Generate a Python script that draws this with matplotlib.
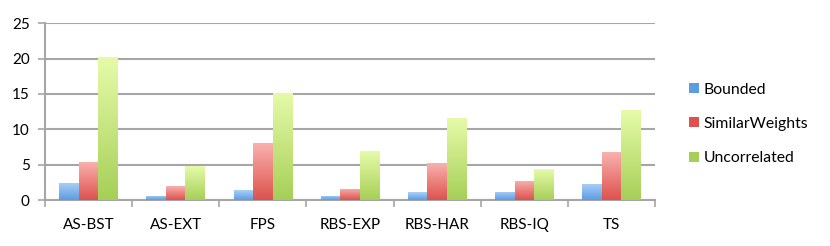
import matplotlib
matplotlib.use('Agg')
import matplotlib.pyplot as plt
import numpy as np
from matplotlib.colors import LinearSegmentedColormap
from matplotlib.patches import Patch

plt.rcParams['font.family'] = ['Lato', 'DejaVu Sans']

categories = ['AS-BST', 'AS-EXT', 'FPS', 'RBS-EXP', 'RBS-HAR', 'RBS-IQ', 'TS']
bounded = [2.45, 0.57, 1.37, 0.57, 1.08, 1.18, 2.31]
similar_weights = [5.33, 1.98, 8.06, 1.56, 5.19, 2.69, 6.79]
uncorrelated = [20.2, 4.8, 15.2, 6.93, 11.6, 4.38, 12.73]

series = [('Bounded', bounded, '#5b9de3', '#abd0f7'),
          ('SimilarWeights', similar_weights, '#dd524e', '#f9b1ae'),
          ('Uncorrelated', uncorrelated, '#a6cf57', '#e6fba9')]

fig = plt.figure(figsize=(8.3, 2.46), dpi=100)
ax = fig.add_axes([45/830, 1-200/246, 610/830, 176.7/246])

x = np.arange(len(categories))
w = 0.224
grad = np.linspace(0, 1, 100).reshape(-1, 1)

for k, (name, vals, c_bot, c_top) in enumerate(series):
    cmap = LinearSegmentedColormap.from_list(name, [c_bot, c_top])
    bars = ax.bar(x + (k - 1) * w, vals, w, color=c_bot, edgecolor='none', zorder=3)
    for b in bars:
        x0, y0 = b.get_x(), b.get_y()
        im = ax.imshow(grad, cmap=cmap, origin='lower', aspect='auto',
                       extent=[x0, x0 + b.get_width(), y0, y0 + b.get_height()], zorder=3.5)
        im.set_clip_path(b)

ax.set_xlim(-0.5, len(categories) - 0.5)
ax.set_ylim(0, 25)
ax.set_yticks([0, 5, 10, 15, 20, 25])
ax.yaxis.grid(True, color='#a6a6a6', linewidth=1.5, zorder=0)
ax.set_axisbelow(True)

ax.set_xticks(x)
ax.set_xticklabels(categories)
ax.set_xticks(np.arange(-0.5, len(categories)), minor=True)
ax.tick_params(axis='x', which='major', length=0, pad=13, labelsize=11)
ax.tick_params(axis='x', which='minor', length=5, width=1.2, color='#a6a6a6')
ax.tick_params(axis='y', length=5, width=1.2, color='#a6a6a6', pad=6, labelsize=11)

for s in ['top', 'right']:
    ax.spines[s].set_visible(False)
for s in ['left', 'bottom']:
    ax.spines[s].set_color('#a6a6a6')
    ax.spines[s].set_linewidth(1.5)

handles = [Patch(facecolor=c_bot, edgecolor='none') for _, _, c_bot, _ in series]
fig.legend(handles, [s[0] for s in series], loc='center left',
           bbox_to_anchor=(675/830, 1-124/246), frameon=False, fontsize=11.3,
           handlelength=0.6, handleheight=0.6, handletextpad=0.3, labelspacing=1.3)

fig.savefig('out.png', dpi=100)
